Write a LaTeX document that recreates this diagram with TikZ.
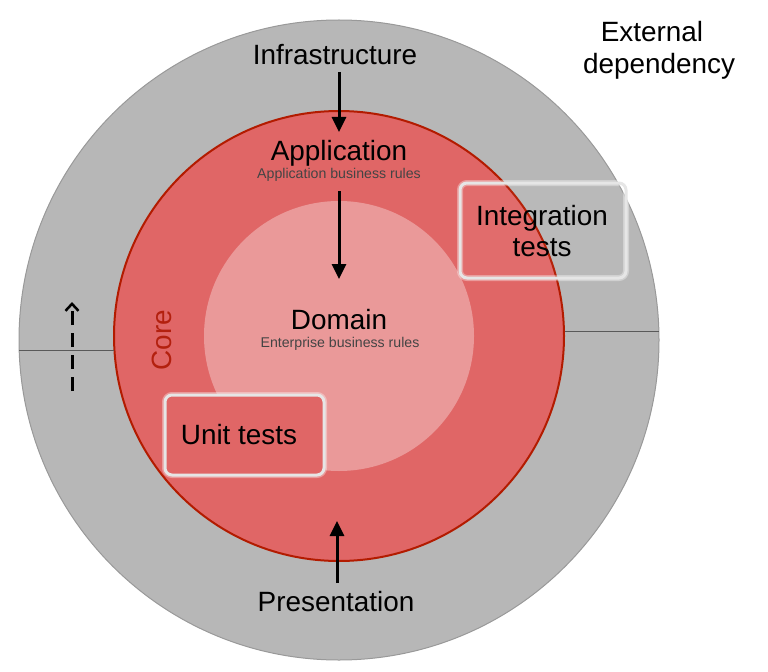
\documentclass[tikz,border=0pt]{standalone}
\usepackage{fontspec}
\setmainfont{Liberation Sans}
\usetikzlibrary{arrows.meta}
\definecolor{outergray}{HTML}{B7B7B7}
\definecolor{outerline}{HTML}{999999}
\definecolor{corered}{HTML}{E06666}
\definecolor{coreline}{HTML}{B31B00}
\definecolor{coretext}{HTML}{B3200E}
\definecolor{domainpink}{HTML}{EA9999}
\definecolor{subgray}{HTML}{444444}
\definecolor{boxline}{HTML}{E6E6E6}
\tikzset{
  big/.style={font=\fontsize{28}{33}\selectfont, text=black, inner sep=0pt},
  small/.style={font=\fontsize{14.2}{16}\selectfont, text=subgray, inner sep=0pt},
  deparrow/.style={line width=3bp, -{Triangle[length=15bp,width=14bp]}},
  testbox/.style={draw=boxline, line width=3bp, rounded corners=7bp},
  divider/.style={draw=black!65, line width=1bp},
}
\begin{document}
\begin{tikzpicture}[x=1bp,y=-1bp]
\useasboundingbox (0,0) rectangle (768,672);
% circles
\fill[outergray, draw=outerline, line width=1bp] (339,340) circle (320);
\fill[corered, draw=coreline, line width=2bp] (339,336) circle (225);
\fill[domainpink] (339,336) circle (135);
% coordinates
\coordinate (lout) at (19,350);
\coordinate (lin) at (114,350);
\coordinate (rin) at (565,331);
\coordinate (rout) at (659,331);
\draw[divider] (lout) -- (lin);
\draw[divider] (rin) -- (rout);
% texts
\node[big, anchor=base] (infra) at (335,65) {Infrastructure};
\node[big, anchor=base] (ext) at (652,42) {External};
\node[big, anchor=base] (ext2) at (659,74) {dependency};
\node[big, anchor=base] (app) at (339,160) {Application};
\node[small, anchor=base] (appsub) at (339,178) {Application business rules};
\node[big, anchor=base] (dom) at (339,329) {Domain};
\node[small, anchor=base] (domsub) at (340,347) {Enterprise business rules};
\node[big, anchor=base] (pres) at (336,611) {Presentation};
\node[font=\fontsize{28}{33}\selectfont, text=coretext, rotate=90, inner sep=0pt] (core) at (162,340) {Core};
% test boxes
\draw[testbox, draw=white, opacity=0.35, line width=6bp] (460,183) rectangle (626,278);
\draw[testbox, fill=white, fill opacity=0.04] (460,183) rectangle (626,278);
\node[big, anchor=base] (integ) at (542,225) {Integration};
\node[big, anchor=base] (integ2) at (542,256) {tests};
\draw[testbox, draw=white, opacity=0.35, line width=6bp] (165,395) rectangle (324,475);
\draw[testbox, fill=corered] (165,395) rectangle (324,475);
\node[big, anchor=base] (unit) at (239,444) {Unit tests};
% arrows
\coordinate (a1s) at (339,72);
\coordinate (a1e) at (339,132);
\coordinate (a2s) at (339,191);
\coordinate (a2e) at (339,279);
\coordinate (a3s) at (337,583);
\coordinate (a3e) at (337,521);
\coordinate (a4s) at (72,391);
\coordinate (a4e) at (72,302);
\draw[deparrow] (a1s) -- (a1e);
\draw[deparrow] (a2s) -- (a2e);
\draw[deparrow] (a3s) -- (a3e);
\draw[line width=3bp, dash pattern=on 14bp off 8bp, -{Straight Barb[length=7bp,width=13bp,line width=2.5bp]}] (a4s) -- (a4e);
\end{tikzpicture}
\end{document}
